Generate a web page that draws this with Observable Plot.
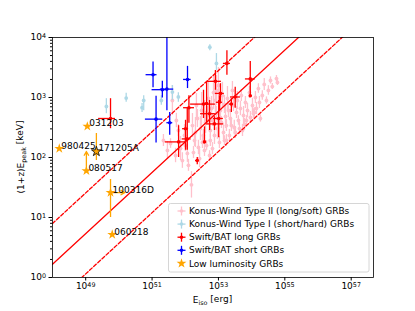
<!DOCTYPE html>
<html><head><meta charset="utf-8">
<script src="https://cdn.jsdelivr.net/npm/d3@7"></script>
<script src="https://cdn.jsdelivr.net/npm/@observablehq/plot@0.6"></script>
<style>
body{margin:0;background:#fff;}
#chart{position:relative;width:415px;height:311px;font-family:"DejaVu Sans",sans-serif;}
</style></head><body><div id="chart"></div>
<script>
// ---------- axes ----------
const xDomain = [1e48, 4.7e57];
const yDomain = [1, 1e4];
const xTicks = [1e49, 1e51, 1e53, 1e55, 1e57];
const yTicks = [1, 10, 100, 1000, 10000];
const yMinorTicks = [2,3,4,5,6,7,8,9,20,30,40,50,60,70,80,90,200,300,400,500,600,700,800,900,2000,3000,4000,5000,6000,7000,8000,9000];

// ---------- Amati relation (solid) and 2-sigma bands (dashed) ----------
const amatiEiso = [1e48, 1e58];
const amatiEp = [1.66, 2.09e5];
const amatiUpperEp = [7.94, 1.0e6];
const amatiLowerEp = [0.355, 4.47e4];

// ---------- Konus-Wind Type II (long/soft) ----------
const konusIIEiso = [
 2.2e51, 2.9e51, 3.6e51, 4.1e51, 5.1e51, 6.2e51, 7.2e51, 8.2e51,
 1.01e52, 1.16e52, 1.54e52, 1.25e52, 9.5e51, 5.4e51, 1.65e52, 1.9e52,
 2.03e52, 2.33e52, 2.5e52, 2.87e52, 3.1e52, 3.5e52, 4.1e52, 4.4e52,
 4.7e52, 5.0e52, 5.7e52, 5.7e52, 6.2e52, 6.6e52, 7.1e52, 7.6e52,
 8.1e52, 8.7e52, 9.3e52, 1.0e53, 1.07e53, 1.15e53, 1.23e53, 1.32e53,
 1.42e53, 1.52e53, 1.63e53, 1.77e52, 2.7e52, 3.8e52, 5.4e52, 1.74e53,
 1.87e53, 2.0e53, 2.14e53, 2.3e53, 2.64e53, 2.83e53, 3.0e53, 3.5e53,
 3.7e53, 4.0e53, 4.6e53, 4.9e53, 5.3e53, 5.7e53, 6.5e53, 7.0e53,
 7.5e53, 8.6e53, 9.2e53, 1.06e54, 1.13e54, 1.3e54, 1.4e54, 1.6e54,
 1.72e54, 2.1e54, 2.4e54, 2.8e54, 3.2e54, 3.7e54, 4.2e54, 5.6e54,
 6.0e54, 1.84e54, 4.3e53, 1.21e54, 6.1e53, 3.25e53, 1.74e53, 2.17e52,
 3.3e52, 6.6e52, 1.0e53, 1.52e53, 2.46e53, 5.4e52, 8.7e52, 3.8e52];
const konusIIEp = [
 192, 131, 171, 891, 108, 282, 141, 89,
 158, 117, 35, 74, 233, 414, 341, 192,
 261, 447, 147, 304, 607, 233, 383, 158,
 501, 962, 282, 192, 656, 414, 1210, 233,
 891, 541, 304, 1585, 178, 607, 383, 1080,
 261, 764, 482, 121, 96, 131, 108, 341,
 962, 607, 233, 447, 1310, 736, 316, 562,
 891, 414, 656, 1080, 282, 501, 826, 414,
 607, 1210, 464, 736, 541, 1000, 656, 1410,
 826, 1080, 1650, 891, 1310, 1920, 1520, 2070,
 1780, 447, 304, 562, 355, 261, 192, 736,
 178, 141, 447, 192, 341, 414, 1310, 562];
// half-width of the Ep error bar, in decades
const konusIIErrDex = [
 .1, .15, .08, .25, .12, .1, .2, .13,
 .1, .15, .22, .1, .18, .12, .2, .1,
 .25, .15, .12, .2, .3, .1, .18, .08,
 .15, .3, .12, .1, .2, .1, .28, .15,
 .2, .12, .18, .3, .1, .25, .1, .22,
 .12, .15, .2, .1, .15, .1, .08, .1,
 .2, .12, .1, .15, .15, .1, .12, .1,
 .15, .08, .12, .1, .1, .15, .1, .08,
 .12, .1, .1, .12, .08, .1, .1, .08,
 .1, .08, .1, .06, .08, .06, .05, .05,
 .05, .06, .1, .08, .1, .1, .1, .2,
 .1, .1, .1, .08, .1, .12, .25, .2];

// ---------- Konus-Wind Type I (short/hard) ----------
const konusIEiso = [4.2e49, 1.66e50, 5.6e50, 5.0e50, 1.9e51, 4.1e51, 6.2e51, 5.5e52, 8.7e52];
const konusIEp   = [708, 977, 891, 676, 891, 1230, 1023, 6900, 3700];
const konusIEpLo = [537, 832, 603, 562, 741, 891, 832, 6000, 2800];
const konusIEpHi = [955, 1175, 1070, 794, 1070, 1585, 1200, 7600, 5400];

// ---------- Swift/BAT long ----------
const swiftLEiso   = [1.8e53, 9.1e53, 9.1e53, 8.1e52, 1.15e53, 3.55e52, 1.07e53, 1.02e53, 7.6e52, 4.4e52, 3.2e53, 2.45e53, 3.8e52, 1.29e52, 6.3e51, 1.15e52, 1.02e52, 2.3e52, 5.4e52, 5.6e49];
const swiftLEisoLo = [1.41e53, 6.5e53, 9.1e53, 4.6e52, 8.1e52, 1.45e52, 8.7e52, 7.1e52, 4.3e52, 3.8e52, 2.3e53, 2.14e53, 3.6e52, 8.9e51, 2.5e51, 8.1e51, 8.3e51, 2.04e52, 2.9e52, 2.45e49];
const swiftLEisoHi = [2.3e53, 1.29e54, 9.1e53, 1.23e53, 1.51e53, 8.1e52, 1.32e53, 1.41e53, 1.45e53, 5.0e52, 4.6e53, 2.8e53, 4.0e52, 1.9e52, 1.02e52, 1.5e52, 1.26e52, 2.57e52, 8.1e52, 7.9e49];
const swiftLEp   = [3700, 2040, 1070, 1860, 1170, 776, 832, 447, 363, 794, 1020, 776, 182, 676, 182, 204, 302, 89, 537, 447];
const swiftLEpLo = [2340, 1070, 1070, 1320, 794, 447, 603, 214, 282, 372, 661, 562, 170, 372, 100, 132, 132, 76, 282, 302];
const swiftLEpHi = [6000, 3980, 1070, 2820, 1700, 1320, 1070, 891, 479, 1820, 1480, 955, 324, 1070, 339, 676, 417, 100, 891, 955];

// ---------- Swift/BAT short ----------
const swiftSEiso   = [1.07e51, 2.04e51, 2.8e51, 1.17e52, 1.32e51, 3.4e51];
const swiftSEisoLo = [6.6e50, 1.0e51, 1.78e51, 8.9e51, 6.3e50, 2.8e51];
const swiftSEisoHi = [1.41e51, 2.9e51, 4.5e51, 1.5e52, 2.1e51, 4.2e51];
const swiftSEp   = [2400, 1350, 1380, 2000, 436, 380];
const swiftSEpLo = [1450, 980, 600, 1410, 174, 234];
const swiftSEpHi = [3900, 1860, 13000, 3300, 1050, 562];

// ---------- Low luminosity GRBs ----------
const llNames = ["980425", "031203", "171205A", "080517", "100316D", "060218"];
const llEiso  = [1.6e48, 1.12e49, 2.1e49, 1.05e49, 5.6e49, 6.3e49];
const llEp    = [141, 330, 126, 60, 26, 5.2];
const llEdge  = ["none", "none", "black", "none", "none", "none"];
const llErrNames = ["171205A", "100316D"];
const llErrEiso  = [2.1e49, 5.6e49];
const llErrLo    = [89, 10];
const llErrHi    = [251, 43];
// limits drawn as arrows
const llUpEiso = [1.05e49], llUpFrom = [60], llUpTo = [126];           // 080517 Ep lower limit
const llRightEp = [26], llRightFrom = [5.6e49], llRightTo = [1.5e50];   // 100316D Eiso lower limit

// ---------- build tables ----------
const pink = konusIIEiso.map((e, i) => ({E: e, Ep: konusIIEp[i], lo: konusIIEp[i] / 10 ** konusIIErrDex[i], hi: konusIIEp[i] * 10 ** konusIIErrDex[i]}));
const lblue = konusIEiso.map((e, i) => ({E: e, Ep: konusIEp[i], lo: konusIEpLo[i], hi: konusIEpHi[i]}));
const sLong = swiftLEiso.map((e, i) => ({E: e, xlo: swiftLEisoLo[i], xhi: swiftLEisoHi[i], Ep: swiftLEp[i], lo: swiftLEpLo[i], hi: swiftLEpHi[i]}));
const sShort = swiftSEiso.map((e, i) => ({E: e, xlo: swiftSEisoLo[i], xhi: swiftSEisoHi[i], Ep: swiftSEp[i], lo: swiftSEpLo[i], hi: swiftSEpHi[i]}));
const ll = llNames.map((n, i) => ({name: n, E: llEiso[i], Ep: llEp[i], edge: llEdge[i]}));
const llErr = llErrNames.map((n, i) => ({E: llErrEiso[i], lo: llErrLo[i], hi: llErrHi[i]}));
const llUp = llUpEiso.map((e, i) => ({E: e, a: llUpFrom[i], b: llUpTo[i]}));
const llRight = llRightEp.map((y, i) => ({Ep: y, a: llRightFrom[i], b: llRightTo[i]}));
const lineT = (ys) => amatiEiso.map((e, i) => ({E: e, Ep: ys[i]}));

const fmtPow = d => "10^" + Math.round(Math.log10(d));
const lw = 1.3;

const svg = Plot.plot({
  width: 415, height: 311,
  marginLeft: 52, marginRight: 42, marginTop: 37, marginBottom: 34,
  style: {fontFamily: '"DejaVu Sans", sans-serif', fontSize: "9px", background: "white", color: "black", overflow: "visible"},
  x: {type: "log", domain: xDomain},
  y: {type: "log", domain: yDomain},
  marks: [
    Plot.axisX(xTicks, {tickSize: 3.5, tickPadding: 2, tickFormat: fmtPow, label: null}),
    Plot.axisY(yTicks, {tickSize: 3.5, tickPadding: 3, tickFormat: fmtPow, label: null}),
    Plot.axisY(yMinorTicks, {tickSize: 2, tickFormat: () => "", label: null}),
    // Konus type II
    Plot.ruleX(pink, {x: "E", y1: "lo", y2: "hi", stroke: "pink", strokeWidth: lw, clip: true}),
    Plot.dot(pink, {x: "E", y: "Ep", r: 1.9, fill: "pink", clip: true}),
    // Konus type I
    Plot.ruleX(lblue, {x: "E", y1: "lo", y2: "hi", stroke: "lightblue", strokeWidth: lw, clip: true}),
    Plot.dot(lblue, {x: "E", y: "Ep", r: 1.9, fill: "lightblue", clip: true}),
    // Amati lines
    Plot.line(lineT(amatiEp), {x: "E", y: "Ep", stroke: "red", strokeWidth: 1.3, clip: true}),
    Plot.line(lineT(amatiUpperEp), {x: "E", y: "Ep", stroke: "red", strokeWidth: 1.3, strokeDasharray: "3.6,2", clip: true}),
    Plot.line(lineT(amatiLowerEp), {x: "E", y: "Ep", stroke: "red", strokeWidth: 1.3, strokeDasharray: "3.6,2", clip: true}),
    // Swift long
    Plot.ruleX(sLong, {x: "E", y1: "lo", y2: "hi", stroke: "red", strokeWidth: lw, clip: true}),
    Plot.ruleY(sLong, {y: "Ep", x1: "xlo", x2: "xhi", stroke: "red", strokeWidth: lw, clip: true}),
    Plot.dot(sLong, {x: "E", y: "Ep", r: 1.8, fill: "red", clip: true}),
    // Swift short
    Plot.ruleX(sShort, {x: "E", y1: "lo", y2: "hi", stroke: "blue", strokeWidth: lw, clip: true}),
    Plot.ruleY(sShort, {y: "Ep", x1: "xlo", x2: "xhi", stroke: "blue", strokeWidth: lw, clip: true}),
    Plot.dot(sShort, {x: "E", y: "Ep", r: 1.8, fill: "blue", clip: true}),
    // Low luminosity
    Plot.ruleX(llErr, {x: "E", y1: "lo", y2: "hi", stroke: "orange", strokeWidth: lw}),
    Plot.arrow(llUp, {x: "E", y1: "a", y2: "b", stroke: "orange", strokeWidth: lw, headLength: 5}),
    Plot.arrow(llRight, {y: "Ep", x1: "a", x2: "b", stroke: "orange", strokeWidth: lw, headLength: 5}),
    Plot.dot(ll, {x: "E", y: "Ep", symbol: "star", r: 3.1, fill: "orange", stroke: "edge", strokeWidth: 0.8}),
    Plot.text(ll, {x: "E", y: "Ep", text: "name", textAnchor: "start", lineAnchor: "bottom", dx: 2, dy: 0, fontSize: 9, fill: "black"}),
    Plot.frame({stroke: "black", strokeWidth: 0.8})
  ]
});

// superscript tick labels
d3.select(svg).selectAll("text").each(function () {
  const m = /^10\^(-?\d+)$/.exec(this.textContent);
  if (!m) return;
  const t = d3.select(this);
  t.text(null);
  t.append("tspan").text("10");
  t.append("tspan").attr("dy", "-0.45em").attr("font-size", "6.4px").text(m[1]);
});

const s = d3.select(svg);
// axis labels
const xl = s.append("text").attr("x", 212.5).attr("y", 303).attr("text-anchor", "middle").attr("font-size", 9).attr("fill", "black");
xl.append("tspan").text("E");
xl.append("tspan").attr("dy", "0.3em").attr("font-size", "6.4px").text("iso");
xl.append("tspan").attr("dy", "-0.3em").text(" [erg]");
const yl = s.append("text").attr("transform", "translate(24,157) rotate(-90)").attr("text-anchor", "middle").attr("font-size", 9).attr("fill", "black");
yl.append("tspan").text("(1+z)E");
yl.append("tspan").attr("dy", "0.3em").attr("font-size", "6.4px").text("peak");
yl.append("tspan").attr("dy", "-0.3em").text(" [keV]");

// legend
const legendLabels = ["Konus-Wind Type II (long/soft) GRBs", "Konus-Wind Type I (short/hard) GRBs", "Swift/BAT long GRBs", "Swift/BAT short GRBs", "Low luminosity GRBs"];
const legendColors = ["pink", "lightblue", "red", "blue", "orange"];
const lg = s.append("g").attr("text-anchor", "start");
lg.append("rect").attr("x", 168.5).attr("y", 203.5).attr("width", 200.5).attr("height", 68.5).attr("rx", 2)
  .attr("fill", "white").attr("fill-opacity", 0.8).attr("stroke", "#cccccc").attr("stroke-width", 0.8);
legendLabels.forEach((lab, i) => {
  const cy = 211 + i * 13.1, cx = 181.5;
  const c = legendColors[i];
  if (i < 4) {
    lg.append("line").attr("x1", cx - 4).attr("x2", cx + 4).attr("y1", cy).attr("y2", cy).attr("stroke", c).attr("stroke-width", lw);
    lg.append("line").attr("x1", cx).attr("x2", cx).attr("y1", cy - 4.5).attr("y2", cy + 4.5).attr("stroke", c).attr("stroke-width", lw);
    lg.append("circle").attr("cx", cx).attr("cy", cy).attr("r", 1.8).attr("fill", c);
  } else {
    lg.append("path").attr("d", d3.symbol(d3.symbolStar, Math.PI * 3.1 * 3.1)()).attr("transform", `translate(${cx},${cy})`).attr("fill", c);
  }
  lg.append("text").attr("x", 189).attr("y", cy).attr("dy", "0.35em").attr("text-anchor", "start").attr("font-size", 9).attr("fill", "black").text(lab);
});

document.getElementById("chart").appendChild(svg);
</script></body></html>
